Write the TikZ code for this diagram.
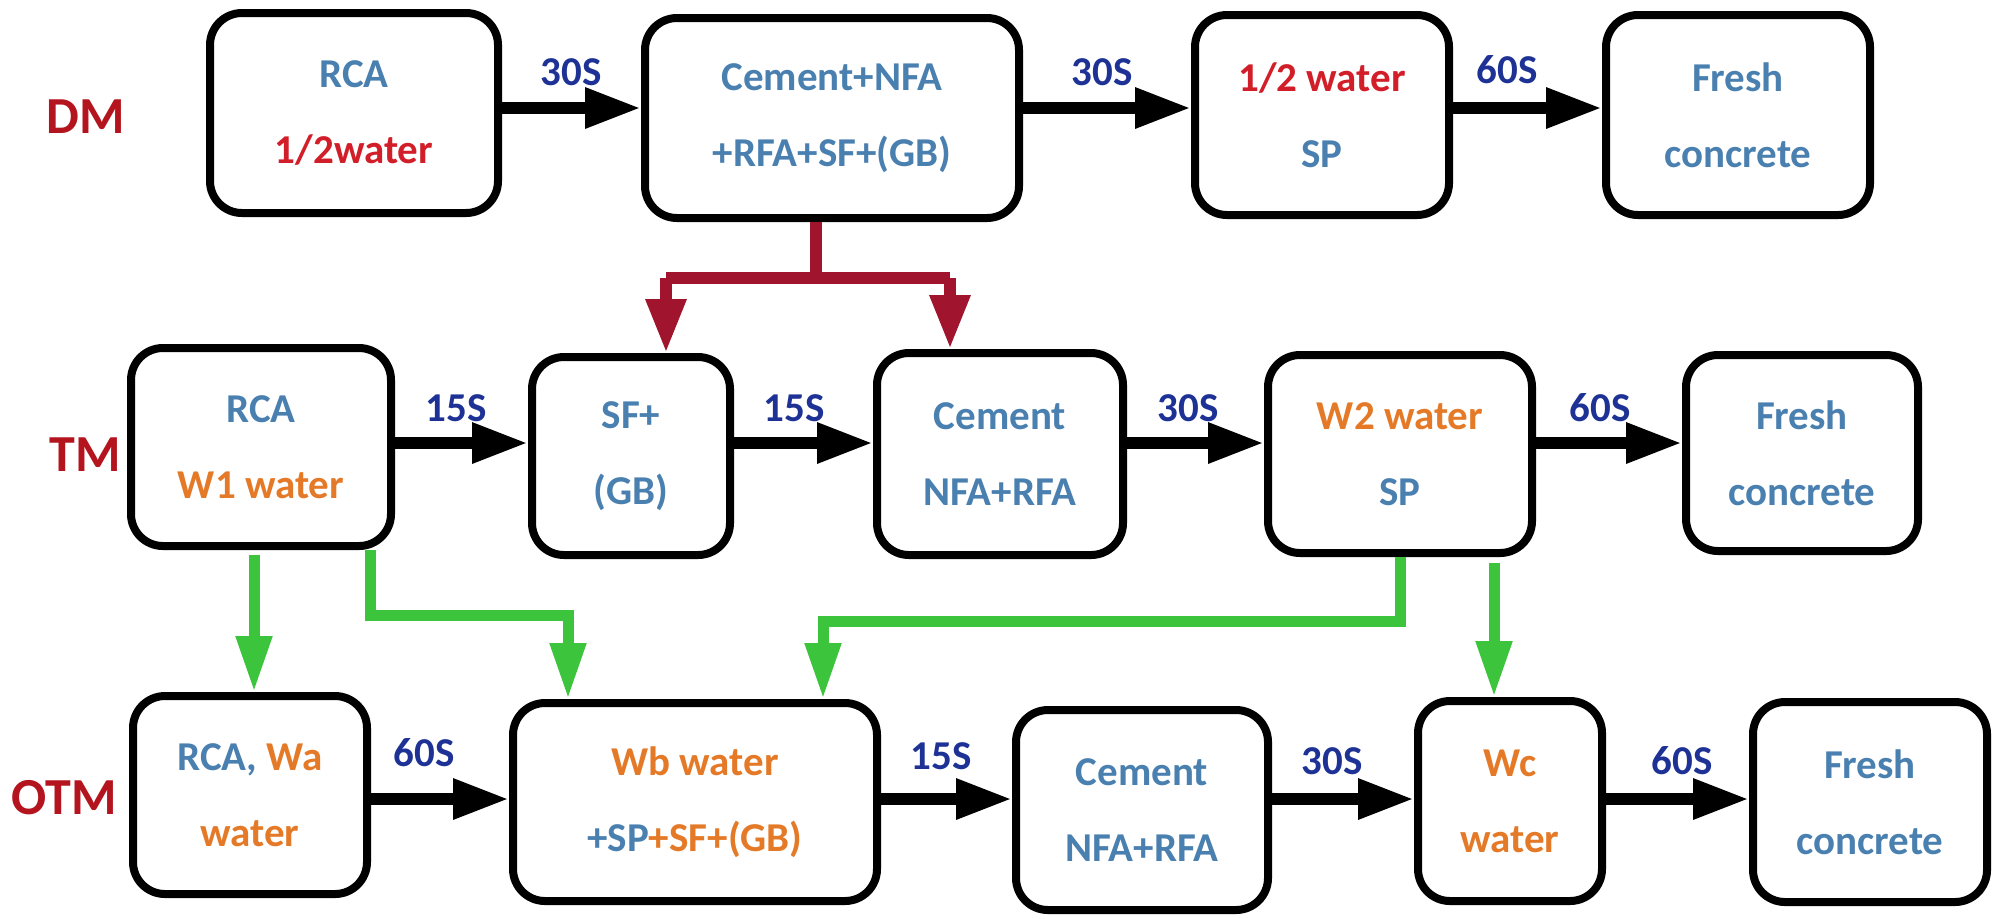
\documentclass[tikz,border=0pt]{standalone}
\usepackage{fontspec}
\setmainfont{Carlito}
\usetikzlibrary{arrows.meta}
\definecolor{tblue}{RGB}{74,128,176}
\definecolor{tred}{RGB}{210,30,40}
\definecolor{torange}{RGB}{228,122,40}
\definecolor{rowred}{RGB}{180,20,30}
\definecolor{timeblue}{RGB}{30,50,150}
\definecolor{conred}{RGB}{160,20,45}
\definecolor{cgreen}{RGB}{60,196,60}
\begin{document}
\begin{tikzpicture}[x=0.5pt,y=-0.5pt,
  box/.style={draw=black,line width=4pt,rounded corners=16pt,align=center,
    font=\fontsize{20.5}{38}\selectfont\bfseries,text=tblue,inner sep=0pt},
  flow/.style={line width=6pt,-{Triangle[length=28pt,width=19pt]}},
  tlab/.style={font=\fontsize{20.5}{24}\selectfont\bfseries,text=timeblue},
  rlab/.style={font=\fontsize{26}{30}\selectfont\bfseries,text=rowred},
  rcon/.style={draw=conred,line width=6pt},
  gcon/.style={draw=cgreen,line width=5.5pt}]
\useasboundingbox (0,0) rectangle (2000,918);
% rows labels
\node[rlab] (lDM) at (86,117) {DM};
\node[rlab] (lTM) at (85,455) {TM};
\node[rlab] (lOTM) at (64,798) {OTM};
% DM row
\node[box,minimum width=144pt,minimum height=100pt] (d1) at (354,113) {RCA\\\textcolor{tred}{1/2water}};
\node[box,minimum width=187pt,minimum height=100pt] (d2) at (832,118) {Cement+NFA\\+RFA+SF+(GB)};
\node[box,minimum width=127pt,minimum height=100pt] (d3) at (1322,115) {\textcolor{tred}{1/2 water}\\SP};
\node[box,minimum width=132pt,minimum height=100pt] (d4) at (1738,115) {Fresh\\concrete};
% TM row
\node[box,minimum width=130pt,minimum height=99pt] (t1) at (261,447) {RCA\\\textcolor{torange}{W1 water}};
\node[box,minimum width=99pt,minimum height=99pt] (t2) at (631,456) {SF+\\(GB)};
\node[box,minimum width=123pt,minimum height=101pt] (t3) at (1000,454) {Cement\\NFA+RFA};
\node[box,minimum width=132pt,minimum height=99pt] (t4) at (1400,454) {\textcolor{torange}{W2 water}\\SP};
\node[box,minimum width=116pt,minimum height=98pt] (t5) at (1802,453) {Fresh\\concrete};
% OTM row
\node[box,minimum width=117pt,minimum height=99pt] (o1) at (250,795) {RCA, \textcolor{torange}{Wa}\\\textcolor{torange}{water}};
\node[box,minimum width=182pt,minimum height=99pt] (o2) at (695,802) {\textcolor{torange}{Wb water}\\+SP\textcolor{torange}{+SF+(GB)}};
\node[box,minimum width=126pt,minimum height=100pt] (o3) at (1142,810) {Cement\\NFA+RFA};
\node[box,minimum width=92pt,minimum height=100pt] (o4) at (1510,801) {\textcolor{torange}{Wc}\\\textcolor{torange}{water}};
\node[box,minimum width=117pt,minimum height=100pt] (o5) at (1870,802) {Fresh\\concrete};
% row heights for flow arrows
\coordinate (yD) at (0,108);
\coordinate (yT) at (0,443);
\coordinate (yO) at (0,799);
% flow arrows
\draw[flow] (d1.east |- yD) -- (d2.west |- yD);
\draw[flow] (d2.east |- yD) -- (d3.west |- yD);
\draw[flow] (d3.east |- yD) -- (d4.west |- yD);
\draw[flow] (t1.east |- yT) -- (t2.west |- yT);
\draw[flow] (t2.east |- yT) -- (t3.west |- yT);
\draw[flow] (t3.east |- yT) -- (t4.west |- yT);
\draw[flow] (t4.east |- yT) -- (t5.west |- yT);
\draw[flow] (o1.east |- yO) -- (o2.west |- yO);
\draw[flow] (o2.east |- yO) -- (o3.west |- yO);
\draw[flow] (o3.east |- yO) -- (o4.west |- yO);
\draw[flow] (o4.east |- yO) -- (o5.west |- yO);
% time labels
\node[tlab] (s1) at (571,72) {30S};
\node[tlab] (s2) at (1102,72) {30S};
\node[tlab] (s3) at (1507,70) {60S};
\node[tlab] (s4) at (456,408) {15S};
\node[tlab] (s5) at (794,408) {15S};
\node[tlab] (s6) at (1188,408) {30S};
\node[tlab] (s7) at (1600,408) {60S};
\node[tlab] (s8) at (424,753) {60S};
\node[tlab] (s9) at (941,756) {15S};
\node[tlab] (s10) at (1332,761) {30S};
\node[tlab] (s11) at (1682,761) {60S};
% red connector
\coordinate (rj) at (816,278);
\coordinate (rl) at (666,278);
\coordinate (rr) at (950,278);
\draw[rcon] (d2.south -| rj) -- (rj);
\draw[rcon] (rl) -- (rr);
\draw[rcon,-{Triangle[length=27pt,width=19pt]}] (rl) -- (t2.north -| rl);
\draw[rcon,-{Triangle[length=27pt,width=19pt]}] (rr) -- (t3.north -| rr);
% green connectors
\coordinate (g1) at (254,555);
\draw[gcon,-{Triangle[length=28pt,width=17pt]}] (g1) -- (o1.north -| g1);
\coordinate (g2a) at (370,615);
\coordinate (g2b) at (568,615);
\draw[gcon,-{Triangle[length=28pt,width=17pt]}] (t1.south -| g2a) -- (g2a) -- (g2b) -- (o2.north -| g2b);
\coordinate (g3a) at (1400,621);
\coordinate (g3b) at (823,621);
\draw[gcon,-{Triangle[length=28pt,width=17pt]}] (t4.south -| g3a) -- (g3a) -- (g3b) -- (o2.north -| g3b);
\coordinate (g4) at (1494,563);
\draw[gcon,-{Triangle[length=28pt,width=17pt]}] (g4) -- (o4.north -| g4);
\end{tikzpicture}
\end{document}
